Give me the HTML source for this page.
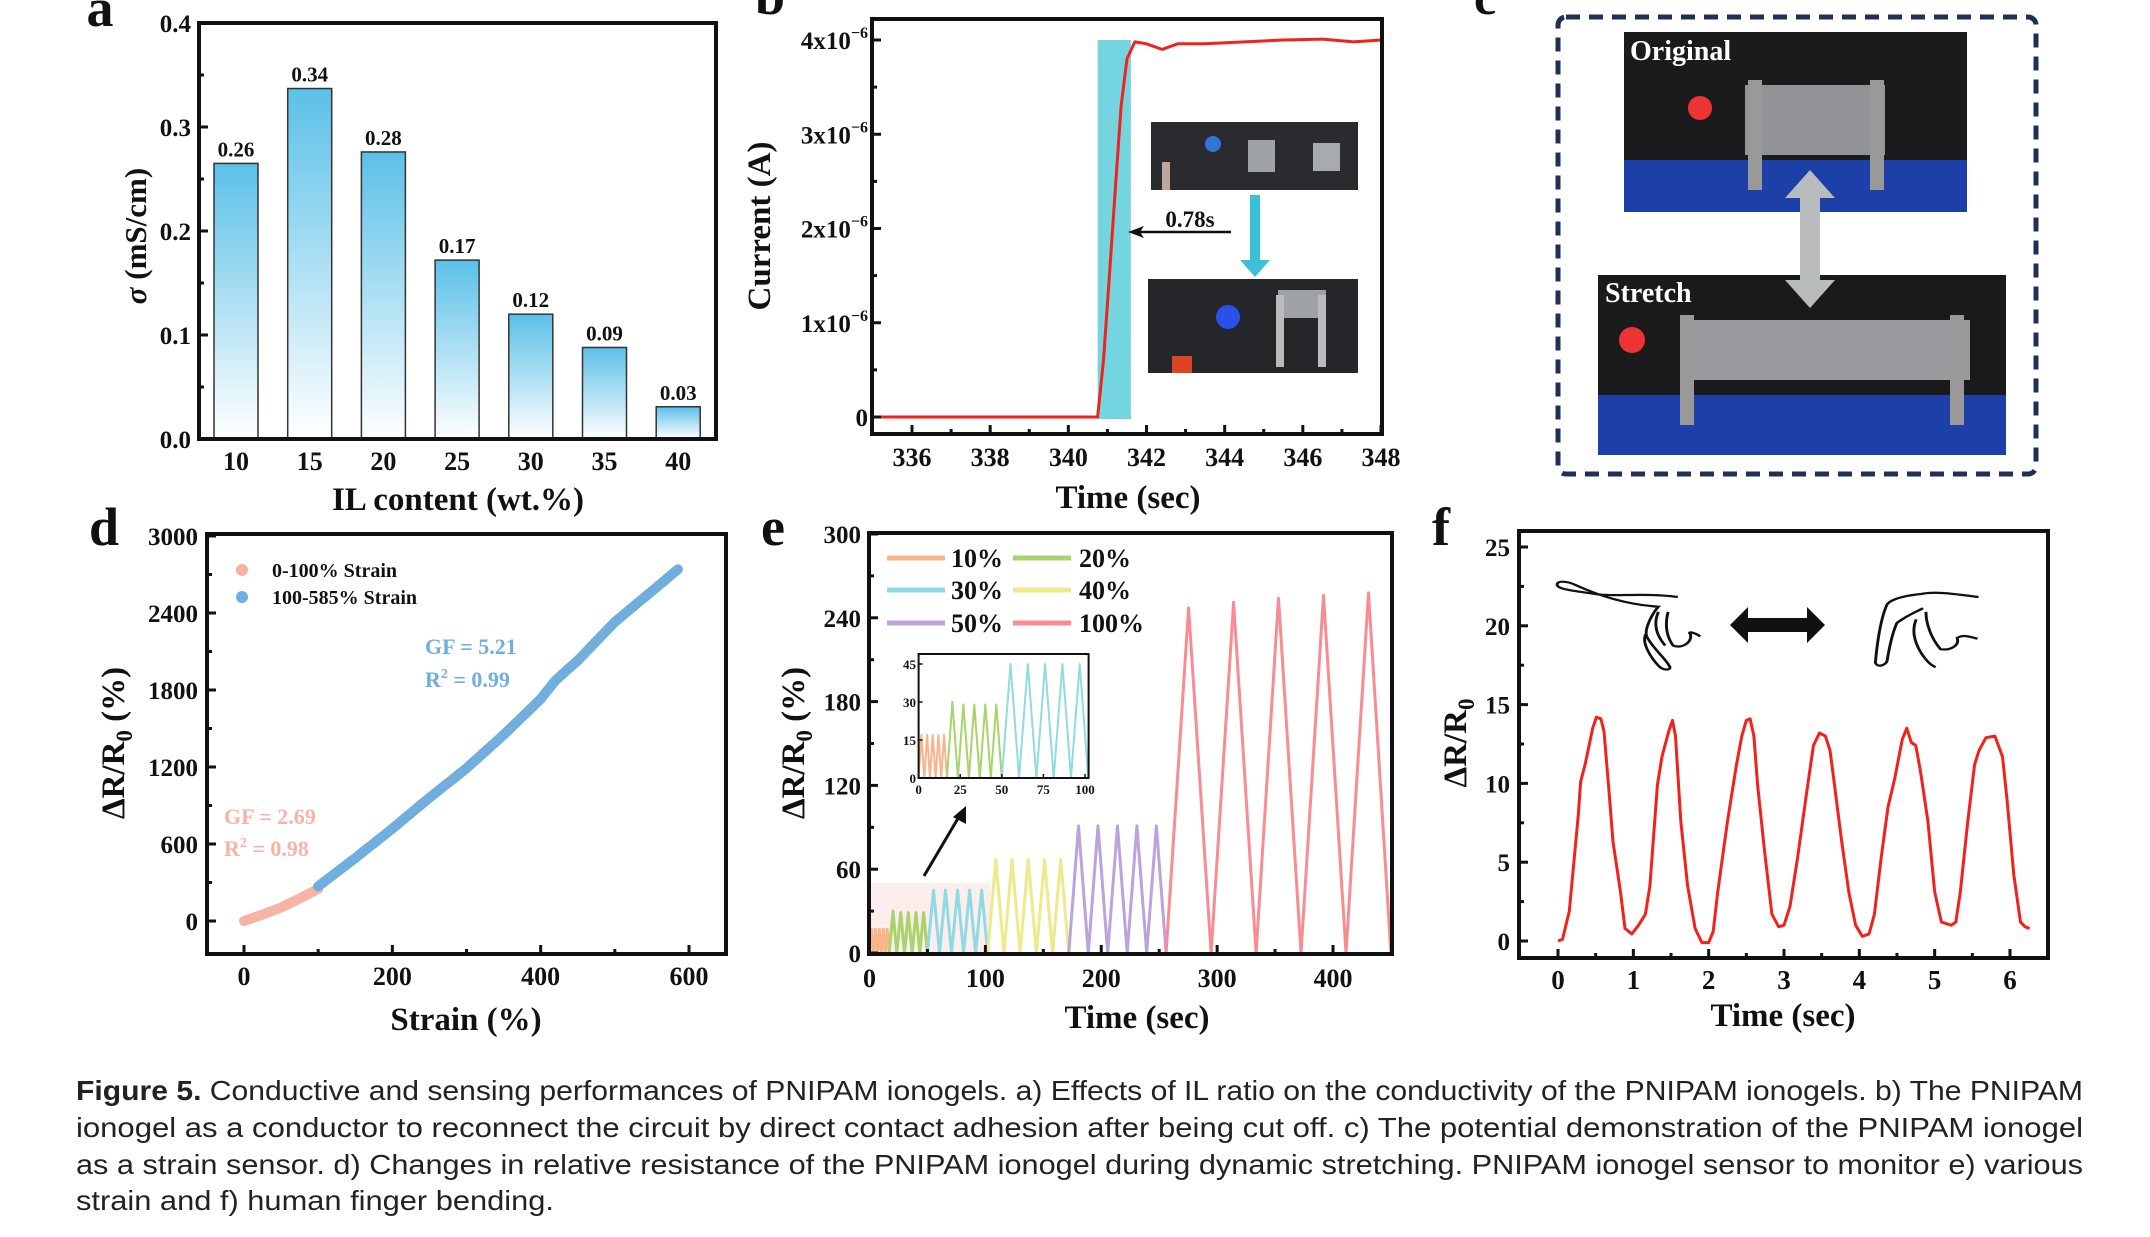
<!DOCTYPE html>
<html><head><meta charset="utf-8"><style>
html,body{margin:0;padding:0;background:#fff;width:2150px;height:1237px;overflow:hidden}
svg{display:block}
.t{font-family:"Liberation Serif",serif;font-weight:bold;fill:#111}
.cap{font-family:"Liberation Sans",sans-serif;fill:#222}
</style></head><body>
<svg id="fig" width="2150" height="1237" viewBox="0 0 2150 1237" xmlns="http://www.w3.org/2000/svg">
<defs>
<linearGradient id="barg" x1="0" y1="0" x2="0" y2="1"><stop offset="0" stop-color="#5bc0e8"/><stop offset="1" stop-color="#ffffff"/></linearGradient>
</defs>
<g id="pa"></g>
<g id="pb"></g>
<g id="pc">
 <text class="t" x="1474" y="14" font-size="50">c</text>
 <rect x="1558" y="17" width="478" height="457" rx="8" fill="none" stroke="#1f2f55" stroke-width="5" stroke-dasharray="14,9"/>
 <g>
  <rect x="1624" y="32" width="343" height="180" fill="#1b1b1e"/>
  <rect x="1624" y="160" width="343" height="52" fill="#1d3fa8"/>
  <circle cx="1700" cy="108" r="12" fill="#e33"/>
  <rect x="1745" y="85" width="140" height="70" fill="#b9bcc0" opacity="0.75"/>
  <rect x="1748" y="80" width="14" height="110" fill="#999"/>
  <rect x="1870" y="80" width="14" height="110" fill="#999"/>
  <text class="t" x="1630" y="60" font-size="28" style="fill:#fff">Original</text>
 </g>
 <g>
  <rect x="1598" y="275" width="408" height="180" fill="#1a1a1d"/>
  <rect x="1598" y="395" width="408" height="60" fill="#1d3fa8"/>
  <circle cx="1632" cy="340" r="13" fill="#e33"/>
  <rect x="1680" y="320" width="290" height="60" fill="#c3c6c9" opacity="0.75"/>
  <rect x="1680" y="315" width="14" height="110" fill="#999"/>
  <rect x="1950" y="315" width="14" height="110" fill="#999"/>
  <text class="t" x="1605" y="302" font-size="28" style="fill:#fff">Stretch</text>
 </g>
 <g>
  <polygon points="1810,170 1835,198 1820,198 1820,280 1835,280 1810,308 1785,280 1800,280 1800,198 1785,198" fill="#b8bcbc"/>
 </g>
</g>
<g id="pd"></g>
<g id="pe"></g>
<g id="pf"></g>
<g id="caption">
 <text class="cap" x="76" y="1100" font-size="28" textLength="2007" lengthAdjust="spacingAndGlyphs"><tspan font-weight="bold">Figure 5.</tspan>  Conductive and sensing performances of PNIPAM ionogels. a) Effects of IL ratio on the conductivity of the PNIPAM ionogels. b) The PNIPAM</text>
 <text class="cap" x="76" y="1137" font-size="28" textLength="2007" lengthAdjust="spacingAndGlyphs">ionogel as a conductor to reconnect the circuit by direct contact adhesion after being cut off. c) The potential demonstration of the PNIPAM ionogel</text>
 <text class="cap" x="76" y="1174" font-size="28" textLength="2007" lengthAdjust="spacingAndGlyphs">as a strain sensor. d) Changes in relative resistance of the PNIPAM ionogel during dynamic stretching. PNIPAM ionogel sensor to monitor e) various</text>
 <text class="cap" x="76" y="1210" font-size="28" textLength="478" lengthAdjust="spacingAndGlyphs">strain and f) human finger bending.</text>
</g>
</svg>
<script>
// ---- Panel a data ----
const aCategories = ['10','15','20','25','30','35','40'];
const aValues = [0.265, 0.337, 0.276, 0.172, 0.120, 0.088, 0.031];
const aLabels = ['0.26','0.34','0.28','0.17','0.12','0.09','0.03'];
const aTicks = [0.0,0.1,0.2,0.3,0.4];
// ---- Panel b data ----
const bTimes = [335, 338.4, 340.75, 340.9, 341.05, 341.2, 341.35, 341.5, 341.7, 342.0, 342.4, 342.8, 343.5, 344.5, 345.5, 346.5, 347.3, 348];
const bCurrent = [0, 0, 0, 0.6, 1.5, 2.4, 3.3, 3.8, 3.98, 3.96, 3.9, 3.96, 3.96, 3.98, 4.0, 4.01, 3.98, 4.0];
const bTicks = [336,338,340,342,344,346,348];
const bYTicks = [0,1,2,3,4];
const bBand = [340.75, 341.6];
// ---- Panel d data ----
const dLowX = [0, 10, 25, 50, 75, 100];
const dLowY = [0, 20, 50, 105, 175, 250];
const dHighX = [100, 150, 200, 250, 300, 350, 400, 420, 450, 500, 550, 585];
const dHighY = [270, 490, 720, 960, 1190, 1450, 1730, 1875, 2030, 2330, 2570, 2740];
const dXTicks = [0,200,400,600];
const dYTicks = [0,600,1200,1800,2400,3000];
// ---- Panel e data ----
const eNames = ['10%','20%','30%','40%','50%','100%'];
const eStart = [0, 17, 50, 102, 172, 256];
const eEnd = [17, 50, 102, 172, 256, 450];
const ePeaks = [[17,17,17,17,17],[30,29,29,29,29],[45,45,45,45,45],[67,67,67,67,67],[91,91,91,91,91],[247,251,254,256,258]];
const eColors = ['#f9b48a','#a9d36b','#8fdbe3','#f0e98c','#bba3dc','#f98c93'];
const eXTicks = [0,100,200,300,400];
const eYTicks = [0,60,120,180,240,300];
const eInsetXTicks = [0,25,50,75,100];
const eInsetYTicks = [0,15,30,45];
// ---- Panel f data ----
const fTimes = [0,0.06,0.15,0.27,0.30,0.36,0.46,0.51,0.57,0.61,0.67,0.73,0.83,0.89,0.98,1.07,1.16,1.22,1.32,1.38,1.47,1.52,1.56,1.63,1.72,1.82,1.91,2.00,2.06,2.12,2.25,2.37,2.44,2.50,2.55,2.60,2.65,2.74,2.84,2.93,3.00,3.08,3.18,3.30,3.39,3.47,3.55,3.61,3.67,3.76,3.86,3.95,4.04,4.13,4.20,4.29,4.38,4.47,4.57,4.63,4.69,4.75,4.81,4.91,5.00,5.09,5.22,5.28,5.34,5.44,5.53,5.59,5.68,5.80,5.90,5.96,6.05,6.14,6.20,6.26];
const fValues = [0,0.11,1.9,8.0,10.1,11.2,13.5,14.2,14.1,13.3,9.9,6.3,3.1,0.8,0.45,1.0,1.7,3.5,9.9,11.7,13.3,14.0,13.0,7.6,3.5,0.8,-0.1,-0.1,0.6,3.1,7.6,11.2,13.0,14.0,14.1,13.0,9.9,5.8,1.7,0.9,1.0,2.2,5.3,9.4,12.4,13.2,13.0,12.1,9.9,6.5,3.1,1.0,0.3,0.45,1.7,5.3,8.5,10.3,12.8,13.5,12.6,12.4,10.8,7.6,3.1,1.2,1.0,1.2,3.1,7.6,11.2,12.1,12.9,13.0,11.7,9.0,4.2,1.2,0.9,0.8];
const fXTicks = [0,1,2,3,4,5,6];
const fYTicks = [0,5,10,15,20,25];

const NS='http://www.w3.org/2000/svg';
function mk(parent, tag, attrs, text){const e=document.createElementNS(NS,tag);for(const k in attrs)e.setAttribute(k,attrs[k]);if(text!==undefined)e.textContent=text;parent.appendChild(e);return e;}
function lin(d0,d1,r0,r1){return v=>r0+(v-d0)/(d1-d0)*(r1-r0);}
function frame(g,x0,y0,x1,y1){const r=mk(g,'rect',{x:x0,y:y0,width:x1-x0,height:y1-y0,fill:'none',stroke:'#111','stroke-width':4});

}
function txt(g,x,y,s,size,anchor,name){const t=mk(g,'text',{x:x,y:y,'font-size':size,'text-anchor':anchor||'middle','class':'t'},s);

return t;}
function xticks(g,ticks,sx,yb,ly,size,fmt,minor){ticks.forEach(v=>{mk(g,'line',{x1:sx(v),x2:sx(v),y1:yb,y2:yb-9,stroke:'#111','stroke-width':3});txt(g,sx(v),ly,fmt?fmt(v):String(v),size,'middle','x-tick-label');});
if(minor)minor.forEach(v=>mk(g,'line',{x1:sx(v),x2:sx(v),y1:yb,y2:yb-5,stroke:'#111','stroke-width':3}));}
function yticks(g,ticks,sy,xl,lx,size,fmt,minor){ticks.forEach(v=>{mk(g,'line',{x1:xl,x2:xl+9,y1:sy(v),y2:sy(v),stroke:'#111','stroke-width':3});txt(g,lx,sy(v)+9,fmt?fmt(v):String(v),size,'end','y-tick-label');});
if(minor)minor.forEach(v=>mk(g,'line',{x1:xl,x2:xl+5,y1:sy(v),y2:sy(v),stroke:'#111','stroke-width':3}));}
function vtitle(g,x,y,size,name){const t=mk(g,'text',{x:0,y:0,'font-size':size,'text-anchor':'middle','class':'t',transform:`translate(${x},${y}) rotate(-90)`});

return t;}
function poly(g,pts,stroke,w,name){const p=mk(g,'polyline',{points:pts.map(p=>p[0].toFixed(1)+','+p[1].toFixed(1)).join(' '),fill:'none',stroke:stroke,'stroke-width':w,'stroke-linejoin':'round'});

return p;}

// ===== Panel a =====
(function(){const g=document.getElementById('pa');
const sy=lin(0,0.4,439,23); const sx=i=>236+i*73.7;
txt(g,100,26,'a',54,'middle','panel-label-a');
aCategories.forEach((c,i)=>{const y=sy(aValues[i]);
const r=mk(g,'rect',{x:sx(i)-22,y:y,width:44,height:439-y,fill:'url(#barg)',stroke:'#333','stroke-width':1.5});


txt(g,sx(i),y-7,aLabels[i],21,'middle','bar-value-label');
txt(g,sx(i),470,c,26,'middle','x-tick-label');});
yticks(g,aTicks,sy,199,191,25,v=>v.toFixed(1),[0.05,0.15,0.25,0.35]);
frame(g,199,23,716,439);
txt(g,458,510,'IL content (wt.%)',33,'middle','x-axis-title');
const t=vtitle(g,146,236,31,'y-axis-title');t.innerHTML='<tspan font-style="italic">σ</tspan> (mS/cm)';
})();

// ===== Panel b =====
(function(){const g=document.getElementById('pb');
const sx=lin(336,348,912,1381), sy=lin(0,4,417,40);
txt(g,770,14,'b',54,'middle','panel-label-b');
const band=mk(g,'rect',{x:sx(bBand[0]),y:sy(4),width:sx(bBand[1])-sx(bBand[0]),height:419-sy(4),fill:'#74d4e0'});


poly(g,bTimes.map((t,i)=>[sx(t),sy(bCurrent[i])]),'#f0221a',3,'current-line');
xticks(g,bTicks,sx,434,466,26,null,[337,339,341,343,345,347]);
bYTicks.forEach(v=>{mk(g,'line',{x1:872,x2:881,y1:sy(v),y2:sy(v),stroke:'#111','stroke-width':3});
const t=txt(g,868,sy(v)+9,'',25,'end','y-tick-label');
if(v===0){t.textContent='0';}else{t.innerHTML=v+'x10<tspan dy="-11" font-size="16">−6</tspan>';}});
[0.5,1.5,2.5,3.5].forEach(v=>mk(g,'line',{x1:872,x2:877,y1:sy(v),y2:sy(v),stroke:'#111','stroke-width':3}));
frame(g,872,19,1382,434);
txt(g,1128,508,'Time (sec)',33,'middle','x-axis-title');
vtitle(g,770,226,33,'y-axis-title').textContent='Current (A)';
const p1=mk(g,'g',{});
mk(p1,'rect',{x:1151,y:122,width:207,height:68,fill:'#2a2b2e'});
mk(p1,'circle',{cx:1213,cy:144,r:8,fill:'#2f76d6'});
mk(p1,'rect',{x:1248,y:140,width:27,height:32,fill:'#9fa3a6'});
mk(p1,'rect',{x:1313,y:143,width:27,height:28,fill:'#a8abad'});
mk(p1,'rect',{x:1162,y:162,width:8,height:28,fill:'#c0a69a'});
const p2=mk(g,'g',{});
mk(p2,'rect',{x:1148,y:279,width:210,height:94,fill:'#252629'});
mk(p2,'circle',{cx:1228,cy:317,r:12,fill:'#2a55ff',opacity:0.9});
mk(p2,'rect',{x:1278,y:290,width:48,height:28,fill:'#9ea2a6'});
mk(p2,'rect',{x:1276,y:295,width:8,height:72,fill:'#bbb'});
mk(p2,'rect',{x:1318,y:295,width:8,height:72,fill:'#bbb'});
mk(p2,'rect',{x:1172,y:356,width:20,height:17,fill:'#d42'});
const a1=mk(g,'polygon',{points:'1250,195 1260,195 1260,260 1270,260 1255,277 1240,260 1250,260',fill:'#3cc0d8'});

const a2=mk(g,'line',{x1:1231,y1:232,x2:1136,y2:232,stroke:'#111','stroke-width':2.5});

mk(g,'polygon',{points:'1128,232 1144,226 1140,232 1144,238',fill:'#111'});
txt(g,1190,227,'0.78s',23,'middle','response-time-label');
})();

// ===== Panel d =====
(function(){const g=document.getElementById('pd');
const sx=lin(0,600,244,689), sy=lin(0,3000,921,536);
txt(g,104,545,'d',54,'middle','panel-label-d');
function dense(xs,ys){const out=[];for(let i=0;i<xs.length-1;i++){for(let k=0;k<8;k++){const f=k/8;out.push([xs[i]+(xs[i+1]-xs[i])*f,ys[i]+(ys[i+1]-ys[i])*f]);}}out.push([xs[xs.length-1],ys[ys.length-1]]);return out;}
const lo=poly(g,dense(dLowX,dLowY).map(p=>[sx(p[0]),sy(p[1])]),'#f6b3a6',10,'series-0-100');lo.setAttribute('stroke-linecap','round');
const hi=poly(g,dense(dHighX,dHighY).map(p=>[sx(p[0]),sy(p[1])]),'#6faedd',10,'series-100-585');hi.setAttribute('stroke-linecap','round');
xticks(g,dXTicks,sx,954,985,26,null,[100,300,500]);
yticks(g,dYTicks,sy,207,198,25,null,[300,900,1500,2100,2700]);
frame(g,207,534,726,954);
mk(g,'circle',{cx:242,cy:570,r:6,fill:'#f6b3a6'});
mk(g,'circle',{cx:242,cy:597,r:6,fill:'#6faedd'});
txt(g,272,577,'0-100% Strain',20,'start','legend-entry-0-100');
txt(g,272,604,'100-585% Strain',20,'start','legend-entry-100-585');
let t=txt(g,425,654,'GF = 5.21',22,'start','gf-high');t.style.fill='#6faedd';
t=txt(g,425,687,'',22,'start','r2-high');t.style.fill='#6faedd';t.innerHTML='R<tspan dy="-9" font-size="14">2</tspan><tspan dy="9"> = 0.99</tspan>';
t=txt(g,224,824,'GF = 2.69',22,'start','gf-low');t.style.fill='#f6b3a6';
t=txt(g,224,856,'',22,'start','r2-low');t.style.fill='#f6b3a6';t.innerHTML='R<tspan dy="-9" font-size="14">2</tspan><tspan dy="9"> = 0.98</tspan>';
txt(g,466,1030,'Strain (%)',33,'middle','x-axis-title');
const v=vtitle(g,124,743,33,'y-axis-title');v.innerHTML='ΔR/R<tspan dy="8" font-size="23">0</tspan><tspan dy="-8"> (%)</tspan>';
})();

// ===== Panel e =====
(function(){const g=document.getElementById('pe');
const sx=lin(0,400,869.5,1333), sy=lin(0,300,953,534);
txt(g,773,545,'e',54,'middle','panel-label-e');
const sh=mk(g,'rect',{x:sx(0),y:sy(50),width:sx(104)-sx(0),height:sy(0)-sy(50),fill:'#fdeeee'});

function wave(i,sxx,syy){const n=ePeaks[i].length,per=(eEnd[i]-eStart[i])/n,pts=[];
for(let k=0;k<n;k++){const s=eStart[i]+k*per;pts.push([sxx(s),syy(0)]);pts.push([sxx(s+per/2),syy(ePeaks[i][k])]);}
pts.push([sxx(eEnd[i]),syy(0)]);return pts;}
eNames.forEach((nm,i)=>poly(g,wave(i,sx,sy),eColors[i],3,'series-'+nm));
xticks(g,eXTicks,sx,954,987,26,null,[50,150,250,350]);
yticks(g,eYTicks,sy,869,861,25,null,[30,90,150,210,270]);
frame(g,869,533,1392,954);
const lx=[887,1013],tx=[951,1079],ly=[558,590,623];
eNames.forEach((nm,i)=>{const c=i%2,r=Math.floor(i/2);
const l=mk(g,'line',{x1:lx[c],x2:lx[c]+58,y1:ly[r],y2:ly[r],stroke:eColors[i],'stroke-width':5});

txt(g,tx[c],ly[r]+9,nm,26,'start','legend-entry-'+nm);});
const ix=lin(0,100,918.6,1085), iy=lin(0,45,778,664);
mk(g,'rect',{x:918.6,y:654,width:170,height:124,fill:'#fff'});
for(let i=0;i<3;i++)poly(g,wave(i,ix,iy),eColors[i],2,'inset-series-'+eNames[i]);
const ir=mk(g,'rect',{x:918.6,y:654,width:170,height:124,fill:'none',stroke:'#111','stroke-width':2});

eInsetXTicks.forEach(v=>{mk(g,'line',{x1:ix(v),x2:ix(v),y1:778,y2:774,stroke:'#111','stroke-width':1.5});txt(g,ix(v),794,String(v),13,'middle','inset-x-tick');});
eInsetYTicks.forEach(v=>{mk(g,'line',{x1:918.6,x2:922.6,y1:iy(v),y2:iy(v),stroke:'#111','stroke-width':1.5});txt(g,916,iy(v)+5,String(v),13,'end','inset-y-tick');});
const ar=mk(g,'line',{x1:924,y1:876,x2:960,y2:815,stroke:'#111','stroke-width':3});

mk(g,'polygon',{points:'966,806 966,824 953,817',fill:'#111'});
txt(g,1137,1028,'Time (sec)',33,'middle','x-axis-title');
const v=vtitle(g,804,743,33,'y-axis-title');v.innerHTML='ΔR/R<tspan dy="8" font-size="23">0</tspan><tspan dy="-8"> (%)</tspan>';
})();

// ===== Panel f =====
(function(){const g=document.getElementById('pf');
const sx=lin(0,6,1558,2010), sy=lin(0,25,941,547);
txt(g,1441,545,'f',54,'middle','panel-label-f');
poly(g,fTimes.map((t,i)=>[sx(t),sy(fValues[i])]),'#f0221a',3,'finger-bending-line');
xticks(g,fXTicks,sx,958,989,27,null,[0.5,1.5,2.5,3.5,4.5,5.5]);
yticks(g,fYTicks,sy,1519,1510,25,null,[2.5,7.5,12.5,17.5,22.5]);
frame(g,1519,531,2048,958);
txt(g,1783,1026,'Time (sec)',33,'middle','x-axis-title');
const v=vtitle(g,1466,743,33,'y-axis-title');v.innerHTML='ΔR/R<tspan dy="8" font-size="23">0</tspan>';
const hg=mk(g,'g',{transform:'translate(1420,500) scale(0.973,0.746) translate(-1420,-500)'});


const h1=mk(hg,'path',{d:'M1685,630 C1650,624 1620,630 1600,626 C1580,622 1562,620 1561,614 C1560,608 1570,608 1580,614 C1600,626 1630,640 1665,643 C1660,650 1650,672 1653,683 C1660,700 1672,712 1676,722 C1680,728 1670,730 1665,722 C1655,708 1648,690 1652,680 M1665,650 C1660,665 1662,680 1672,695 M1675,650 C1672,665 1672,680 1680,695 C1690,700 1700,690 1698,680 C1694,675 1703,678 1708,683',fill:'none',stroke:'#111','stroke-width':3});

const h2=mk(hg,'path',{d:'M1994,630 C1970,626 1950,622 1935,626 C1920,628 1905,632 1900,640 C1893,660 1890,690 1888,718 C1890,725 1898,722 1900,716 C1902,700 1905,680 1910,665 C1920,655 1930,650 1937,645 M1930,660 C1925,675 1928,690 1935,705 C1940,715 1945,722 1950,724 M1940,650 C1940,665 1945,685 1955,700 C1965,702 1975,695 1972,685 C1978,680 1985,683 1993,686',fill:'none',stroke:'#111','stroke-width':3});

const da=mk(g,'polygon',{points:'1730,625 1748,607 1748,618 1807,618 1807,607 1825,625 1807,643 1807,632 1748,632 1748,643',fill:'#111'});

})();
</script>
</body></html>
